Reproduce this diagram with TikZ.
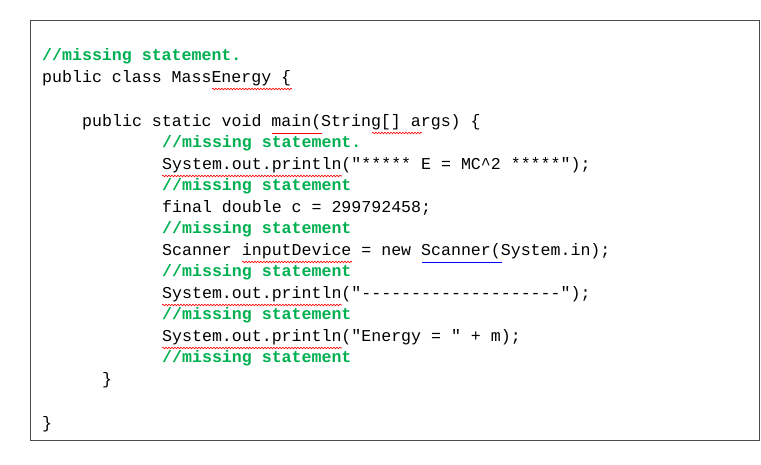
\documentclass[tikz,border=0pt]{standalone}
\usepackage{fontspec}
\setmonofont{Liberation Mono}
\usetikzlibrary{decorations.pathmorphing}
\definecolor{cgreen}{RGB}{0,176,80}
\begin{document}
\begin{tikzpicture}[x=1pt,y=-1pt,
  code/.style={anchor=west,inner sep=0,font=\ttfamily\fontsize{16.6}{20}\selectfont},
  cmt/.style={code,text=cgreen,font=\ttfamily\bfseries\fontsize{16.6}{20}\selectfont},
  wavy/.style={draw=red,line width=0.6pt,decorate,decoration={snake,amplitude=0.8pt,segment length=3pt}},
  blueline/.style={draw=blue,line width=0.8pt}]
\useasboundingbox (0,0) rectangle (761,465);
\node[draw=black!70,line width=0.8pt,minimum width=729,minimum height=420,anchor=north west,inner sep=0] (frame) at (30,20) {};
\node[cmt] (l1) at (42,56) {//missing statement.};
\node[code] (l2) at (42,78) {public class MassEnergy \{};
\node[code] (l3) at (82,122) {public static void main(String[] args) \{};
\node[cmt] (l4) at (162,143) {//missing statement.};
\node[code] (l5) at (162,165) {System.out.println("***** E = MC\^{}2 *****");};
\node[cmt] (l6) at (162,186) {//missing statement};
\node[code] (l7) at (162,208) {final double c = 299792458;};
\node[cmt] (l8) at (162,229) {//missing statement};
\node[code] (l9) at (162,251) {Scanner inputDevice = new Scanner(System.in);};
\node[cmt] (l10) at (162,272) {//missing statement};
\node[code] (l11) at (162,294) {System.out.println("--------------------");};
\node[cmt] (l12) at (162,315) {//missing statement};
\node[code] (l13) at (162,337) {System.out.println("Energy = " + m);};
\node[cmt] (l14) at (162,358) {//missing statement};
\node[code] (l15) at (102,380) {\}};
\node[code] (l16) at (42,424) {\}};
% spell-check underlines
\draw[wavy] (212,89) -- (292,89);
\draw[draw=red,line width=0.6pt] (272,133) -- (322,133);
\draw[wavy] (372,133) -- (422,133);
\draw[wavy] (162,176) -- (342,176);
\draw[wavy] (242,262) -- (352,262);
\draw[blueline] (422,262) -- (502,262);
\draw[wavy] (162,305) -- (342,305);
\draw[wavy] (162,348) -- (342,348);
\end{tikzpicture}
\end{document}
